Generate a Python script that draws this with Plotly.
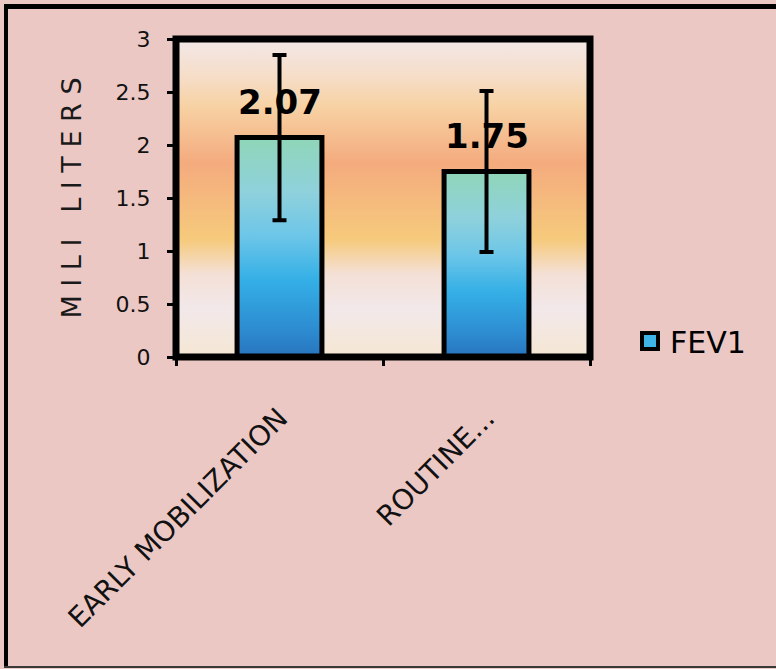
import plotly.graph_objects as go

# ---- data -------------------------------------------------------------
categories = ["EARLY MOBILIZATION", "ROUTINE..."]
fev1_means = [2.07, 1.75]
fev1_sd = [0.78, 0.76]
y_ticks = [0, 0.5, 1, 1.5, 2, 2.5, 3]
series_name = "FEV1"
y_title = "MILI LITERS"

# ---- layout constants -------------------------------------------------
W, H = 776, 669
M_L, M_R, M_T, M_B = 176, 186, 39, 312
PLOT_W = W - M_L - M_R
PLOT_H = H - M_T - M_B
BAR_WIDTH = 0.41
Y_MAX = 3
FONT = "DejaVu Sans"


def px_x(px):
    """pixel column -> paper x"""
    return (px - M_L) / PLOT_W


def px_y(py):
    """pixel row -> paper y"""
    return (H - M_B - py) / PLOT_H


# vertical gradients (bottom -> top)
bg_scale = [
    [0.00, "#f5e7d3"],
    [0.15, "#f2e8ea"],
    [0.26, "#f4e0d6"],
    [0.37, "#f6ca7c"],
    [0.61, "#f4ab7e"],
    [0.79, "#f7d2a4"],
    [0.87, "#f6dcc4"],
    [1.00, "#f3e8e8"],
]
bar_scale = [
    [0.00, "#2874bd"],
    [0.12, "#2d8bd0"],
    [0.35, "#34afe6"],
    [0.55, "#6cc6e8"],
    [0.75, "#8fd1dc"],
    [1.00, "#8fd6b8"],
]

fig = go.Figure()

x_lo, x_hi = -0.5, len(categories) - 0.5

# plot-area background gradient
fig.add_trace(go.Scatter(
    x=[x_lo, x_hi, x_hi, x_lo, x_lo], y=[0, 0, Y_MAX, Y_MAX, 0],
    fill="toself", mode="lines", line=dict(width=0),
    fillgradient=dict(type="vertical", colorscale=bg_scale, start=0, stop=Y_MAX),
    hoverinfo="skip", showlegend=False,
))

# bars with their own gradient fill and black outline
for i, (cat, v) in enumerate(zip(categories, fev1_means)):
    x0, x1 = i - BAR_WIDTH / 2, i + BAR_WIDTH / 2
    fig.add_trace(go.Scatter(
        x=[x0, x1, x1, x0, x0], y=[0, 0, v, v, 0],
        fill="toself", mode="lines",
        line=dict(color="black", width=5),
        fillgradient=dict(type="vertical", colorscale=bar_scale, start=0, stop=v),
        name=series_name, legendgroup="fev1", showlegend=False,
        hoverinfo="text", hovertext=f"{cat}: {v}",
    ))

# error bars
fig.add_trace(go.Scatter(
    x=list(range(len(categories))), y=fev1_means,
    mode="markers", marker=dict(size=1, opacity=0),
    error_y=dict(type="data", array=fev1_sd, color="black", thickness=4, width=7),
    showlegend=False, hoverinfo="skip",
))

# legend entry
fig.add_trace(go.Scatter(
    x=[None], y=[None], mode="markers",
    marker=dict(symbol="square", size=24, color="#3fb4e6",
                line=dict(color="black", width=4)),
    name=series_name, legendgroup="fev1",
))

# value labels
for i, v in enumerate(fev1_means):
    fig.add_annotation(
        x=i, y=v, text=f"{v:.2f}", showarrow=False,
        yanchor="middle", yshift=36,
        font=dict(family=FONT, size=34, color="black", weight="bold"),
    )

shapes = [
    # plot frame
    dict(type="rect", xref="paper", yref="paper", x0=0, x1=1, y0=0, y1=1,
         line=dict(color="black", width=7), layer="above"),
    # outer chart border
    dict(type="line", xref="paper", yref="paper",
         x0=px_x(6), x1=px_x(6), y0=px_y(667), y1=px_y(6),
         line=dict(color="black", width=4)),
    dict(type="line", xref="paper", yref="paper",
         x0=px_x(4), x1=px_x(800), y0=px_y(6.5), y1=px_y(6.5),
         line=dict(color="black", width=5)),
    dict(type="line", xref="paper", yref="paper",
         x0=px_x(4), x1=px_x(800), y0=px_y(667), y1=px_y(667),
         line=dict(color="#3a3a3a", width=2)),
]

fig.update_layout(
    width=W, height=H,
    margin=dict(l=M_L, r=M_R, t=M_T, b=M_B, pad=0),
    paper_bgcolor="#ecc8c5",
    plot_bgcolor="#f3e8e8",
    shapes=shapes,
    showlegend=True,
    legend=dict(
        x=px_x(630), y=px_y(341), xanchor="left", yanchor="middle",
        font=dict(family=FONT, size=30, color="black"),
        bgcolor="rgba(0,0,0,0)",
    ),
    xaxis=dict(
        range=[x_lo, x_hi], tickmode="array",
        tickvals=list(range(len(categories))), ticktext=categories,
        ticks="", tickangle=-45, ticklabelstandoff=38,
        tickfont=dict(family=FONT, size=28, color="#111"),
        showgrid=False, zeroline=False, showline=False,
        minor=dict(tickmode="array",
                   tickvals=[x_lo + k for k in range(len(categories) + 1)],
                   ticks="outside", ticklen=8, tickwidth=3,
                   tickcolor="black", showgrid=False),
    ),
    yaxis=dict(
        range=[0, Y_MAX], tickmode="array", tickvals=y_ticks,
        ticks="outside", ticklen=8, tickwidth=3, tickcolor="black",
        ticklabelstandoff=12,
        tickfont=dict(family=FONT, size=22, color="#111"),
        showgrid=False, zeroline=False, showline=False,
        title=dict(text=" ".join(y_title), standoff=26,
                   font=dict(family=FONT, size=27, color="#1a1a1a")),
    ),
)

fig.write_html("out.html")
